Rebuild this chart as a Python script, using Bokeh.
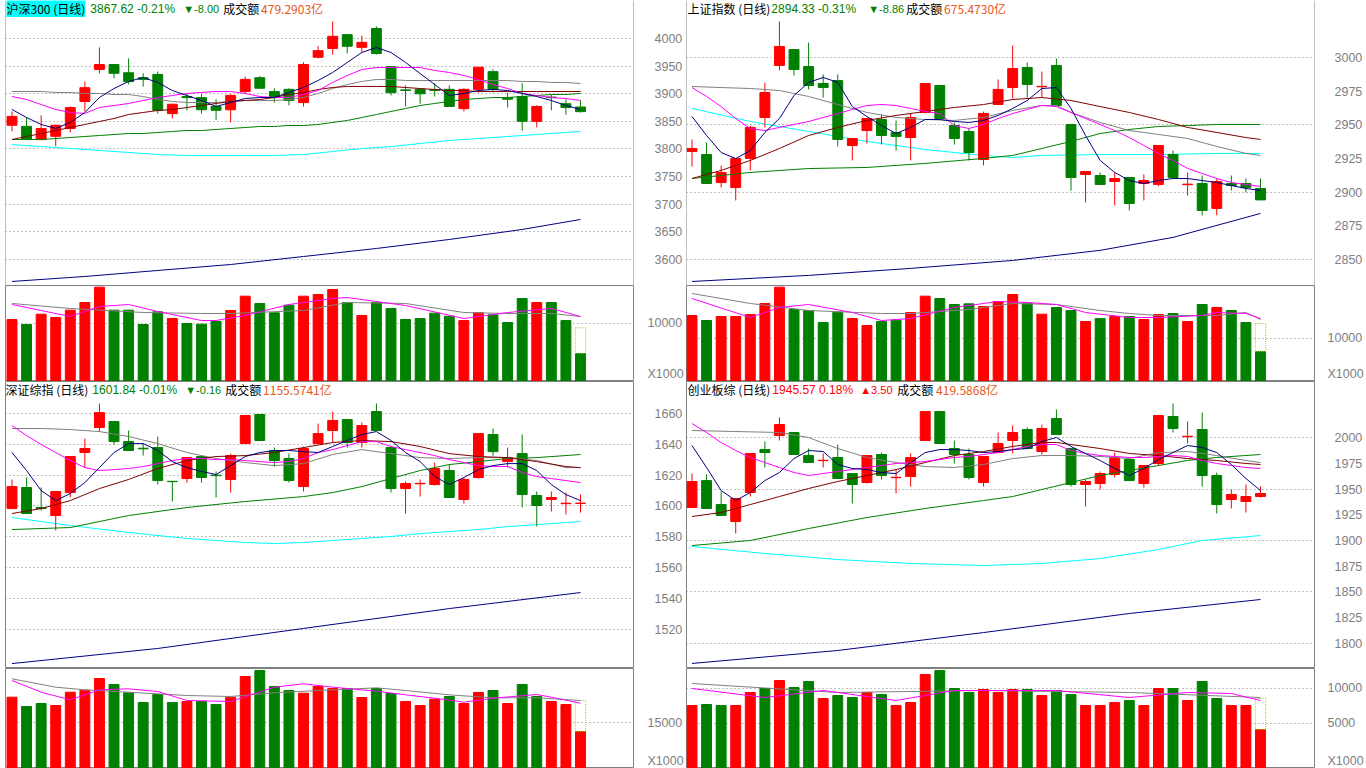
from bokeh.plotting import figure
from bokeh.layouts import row, column
from bokeh.models import Range1d, FixedTicker, Label, ColumnDataSource, Span
from bokeh.embed import file_html
from bokeh.resources import INLINE

# ---------------- DATA ----------------
IDX = list(range(40))

# 沪深300
TL_open = [3843,3841,3817,3823,3837,3886,3944,3953,3938,3929,3935,3864,3895,3893,3877,3871,3904,3929,3904,3908,3884,3966,3982,4007,3984,4018,3949,3907,3908,3907,3908,3873,3908,3940,3893,3895,3850,3894,3882,3876]
TL_high = [3868,3857,3861,3844,3877,3922,3984,3953,3964,3937,3940,3882,3900,3900,3890,3900,3931,3932,3910,3910,3957,3986,4031,4007,4005,4022,3949,3915,3908,3919,3915,3910,3948,3944,3902,3919,3879,3899,3890,3888]
TL_low = [3832,3817,3816,3805,3830,3868,3937,3928,3917,3913,3864,3855,3870,3864,3852,3848,3900,3910,3884,3879,3877,3964,3971,3973,3975,3971,3897,3877,3882,3895,3877,3868,3902,3902,3875,3833,3839,3870,3862,3866]
TL_close = [3859,3818,3837,3843,3875,3911,3953,3937,3922,3926,3870,3881,3893,3871,3870,3897,3926,3910,3893,3888,3953,3978,4004,3986,3993,3973,3902,3906,3900,3906,3877,3908,3948,3908,3890,3850,3877,3893,3875,3867.62]
TL_ma5 = [3871.5,3857.0,3844.4,3837.1,3848.0,3866.1,3893.2,3909.5,3922.2,3929.4,3920.4,3905.9,3896.8,3887.8,3876.9,3884.2,3891.4,3893.2,3893.2,3902.3,3911.3,3924.0,3938.5,3956.6,3974.7,3983.7,3974.7,3956.6,3936.6,3916.7,3896.8,3900.5,3905.9,3907.7,3905.9,3900.5,3895.0,3887.8,3878.7,3871.5]
TL_ma10 = [3895.0,3889.6,3880.5,3871.5,3866.1,3864.3,3875.1,3878.7,3882.4,3887.8,3893.2,3896.8,3900.5,3902.3,3904.1,3904.1,3900.5,3895.0,3893.2,3893.2,3898.6,3905.9,3920.4,3933.0,3943.9,3947.5,3947.5,3947.5,3947.5,3942.1,3938.5,3933.0,3925.8,3916.7,3909.5,3900.5,3896.8,3893.2,3891.4,3887.8]
TL_ma20 = [3904.1,3904.1,3904.1,3902.3,3902.3,3900.5,3900.5,3898.6,3898.6,3895.0,3889.6,3886.0,3884.2,3884.2,3884.2,3886.0,3887.8,3887.8,3887.8,3889.6,3893.2,3900.5,3909.5,3916.7,3922.2,3925.8,3925.8,3924.0,3924.0,3924.0,3924.0,3924.0,3924.0,3924.0,3924.0,3922.2,3922.2,3920.4,3920.4,3918.5]
TL_ma30 = [3817.2,3822.6,3828.0,3833.5,3838.9,3844.4,3849.8,3855.2,3862.4,3866.1,3869.7,3871.5,3875.1,3878.7,3882.4,3886.0,3887.8,3889.6,3893.2,3898.6,3902.3,3907.7,3911.3,3913.2,3913.2,3913.2,3913.2,3911.3,3909.5,3907.7,3905.9,3905.9,3904.1,3904.1,3904.1,3904.1,3904.1,3904.1,3904.1,3904.1]
TL_ma60 = [3817.2,3817.2,3817.2,3819.0,3820.8,3822.6,3824.4,3826.2,3828.0,3828.0,3829.9,3831.7,3833.5,3833.5,3835.3,3837.1,3838.9,3840.7,3840.7,3842.5,3842.5,3844.4,3848.0,3851.6,3857.0,3862.4,3867.9,3873.3,3878.7,3882.4,3886.0,3889.6,3891.4,3893.2,3893.2,3895.0,3896.8,3898.6,3898.6,3900.5]
TL_ma120_x = [0,2,4,6,8,10,12,14,16,18,20,22,24,26,28,30,32,34,36,38,39]
TL_ma120 = [3808.1,3804.5,3800.9,3797.3,3793.7,3790.0,3788.2,3788.2,3788.2,3788.2,3790.0,3795.5,3800.9,3804.5,3809.9,3815.4,3819.0,3822.6,3826.2,3829.9,3831.7]
TL_ma250_x = [0,5,10,15,20,25,30,35,39]
TL_ma250 = [3560.2,3569.2,3580.1,3590.9,3605.4,3619.9,3636.2,3654.3,3672.4]
TL_vol = [10700,9820,11630,11050,12340,13680,16370,12340,12340,9820,12050,10870,10000,9880,10350,12280,14790,13500,11870,13210,14790,15080,15960,13680,11400,13680,12630,10700,10870,11810,11280,10520,11870,11520,10170,14380,13680,13680,10520,4740]
TL_vol_proj = 9240
TL_vma10_x = [0,4,9,13,15,20,23,27,31,34,37,39]
TL_vma10 = [13506,12629,11927,11752,11752,12278,13681,13506,11927,11752,11752,11226]
TL_vma5_x = [0,2,4,6,8,10,13,14,16,19,22,23,27,31,34,37,39]
TL_vma5 = [13330,12278,11226,12980,13330,12103,10524,10524,11401,13330,14383,14558,13155,10875,11927,12629,11226]

# 上证指数
TR_open = [2930.3,2928.0,2907.2,2903.5,2925.1,2955.5,2994.1,3005.9,2993.3,2980.7,2982.9,2934.7,2945.8,2954.0,2944.3,2940.6,2959.2,2979.2,2949.5,2945.1,2924.3,2965.1,2977.7,2992.6,2978.3,2994.1,2950.3,2913.2,2912.4,2908.0,2911.0,2906.5,2905.8,2928.0,2905.6,2906.5,2888.0,2906.5,2906.5,2902.8]
TR_high = [2939.2,2936.9,2919.9,2925.1,2949.5,2981.4,3026.7,3005.9,3011.1,2987.4,2987.4,2939.9,2954.7,2957.7,2953.3,2958.4,2980.7,2979.2,2951.8,2947.3,2959.9,2983.7,3008.9,2996.3,2989.6,2999.3,2950.3,2915.4,2914.7,2914.7,2911.0,2913.2,2934.7,2931.0,2914.7,2912.4,2910.2,2912.4,2910.2,2910.2]
TR_low = [2919.1,2906.5,2903.5,2893.9,2916.2,2948.1,2990.4,2986.6,2976.3,2970.3,2934.0,2923.6,2936.2,2935.4,2931.0,2923.6,2958.4,2954.7,2935.4,2923.6,2919.9,2965.1,2969.6,2970.3,2970.3,2964.4,2901.3,2892.4,2905.8,2890.2,2886.5,2893.9,2904.3,2911.0,2897.6,2882.8,2882.8,2901.3,2899.8,2894.3]
TR_close = [2932.5,2906.5,2914.7,2925.1,2948.1,2974.0,3008.2,2991.1,2979.2,2977.7,2939.2,2939.9,2954.7,2942.1,2941.4,2955.5,2980.7,2954.7,2939.9,2929.5,2958.4,2976.3,2991.8,2980.0,2978.6,2964.4,2911.0,2915.4,2905.8,2910.2,2891.7,2908.7,2934.7,2911.0,2906.0,2886.5,2908.0,2905.0,2903.5,2894.33]
TR_ma5 = [2956.2,2942.1,2929.5,2925.0,2931.0,2944.4,2954.7,2971.8,2981.5,2985.2,2981.5,2963.6,2956.2,2949.5,2943.6,2948.1,2954.0,2954.0,2952.5,2951.8,2953.3,2957.0,2962.2,2968.1,2977.0,2977.7,2962.2,2942.1,2923.6,2914.7,2908.7,2906.5,2908.7,2910.2,2910.2,2908.7,2907.2,2905.0,2902.8,2901.3]
TR_ma10 = [2977.7,2971.1,2963.6,2954.7,2947.3,2945.8,2948.1,2950.3,2952.5,2955.5,2958.4,2961.4,2964.4,2965.1,2964.4,2962.2,2959.9,2958.4,2949.5,2947.3,2950.3,2954.7,2958.4,2961.4,2964.4,2963.6,2959.2,2954.7,2950.3,2945.8,2940.6,2934.7,2928.8,2923.6,2917.7,2913.9,2910.2,2907.2,2905.8,2904.3]
TR_ma20_x = [0,2,4,6,8,10,12,14,16,18,20,22,24,25,26,28,30,32,34,36,38,39]
TR_ma20 = [2978.5,2977.7,2977.0,2975.5,2971.1,2965.1,2959.2,2955.5,2954.0,2953.3,2955.5,2960.7,2964.4,2964.4,2959.2,2951.8,2945.8,2942.9,2939.9,2934.0,2928.8,2927.3]
TR_ma30_x = [0,2,4,6,8,10,12,14,16,18,20,22,24,26,28,30,32,34,36,38,39]
TR_ma30 = [2910.2,2916.2,2923.6,2932.5,2942.1,2948.1,2953.3,2957.0,2959.9,2962.9,2965.1,2968.8,2970.3,2968.1,2963.6,2959.2,2954.0,2948.1,2944.4,2940.6,2939.2]
TR_ma60_x = [0,4,8,12,16,20,22,24,26,28,30,32,34,36,39]
TR_ma60 = [2910.2,2914.7,2917.6,2918.4,2921.4,2925.1,2927.3,2932.5,2937.7,2943.6,2946.6,2948.8,2949.5,2950.3,2950.3]
TR_ma120_x = [0,4,8,12,16,20,22,24,28,32,36,39]
TR_ma120 = [2962.2,2952.5,2945.1,2937.7,2931.7,2927.3,2925.8,2927.3,2928.0,2928.0,2928.8,2928.8]
TR_ma250_x = [0,8,15,22,28,33,39]
TR_ma250 = [2833.8,2838.3,2843.5,2849.4,2856.9,2866.5,2884.3]
TR_vol = [15366,14184,15130,15130,15602,18203,22060,16784,16548,13711,16154,14657,13002,13948,14263,16075,19937,19385,17966,18124,17494,18676,20330,18282,15681,17257,16548,13948,14657,15130,15130,14420,15602,15838,13948,17966,17257,16548,13711,6856]
TR_vol_proj = 13475
TR_vma10_x = [0,4,8,13,15,19,22,25,28,30,32,36,38,39]
TR_vma10 = [20567,18203,16548,15839,15839,16784,18203,17966,16548,15839,15366,15366,16075,14420]
TR_vma5_x = [0,4,6,8,11,13,15,18,21,23,25,27,30,32,35,36,38,39]
TR_vma5 = [19385,14893,17257,17966,16075,14184,14657,17257,18676,18439,17966,16075,14893,14893,15366,16075,15839,14657]

# 深证综指
BL_open = [1598.3,1612.0,1599.0,1593.8,1608.7,1634.7,1650.9,1654.8,1641.8,1637.5,1637.9,1616.0,1617.8,1632.1,1620.0,1617.2,1640.5,1659.4,1636.0,1630.8,1612.6,1640.5,1649.0,1656.1,1641.2,1661.3,1637.9,1611.3,1614.4,1613.9,1623.0,1604.2,1618.5,1646.4,1628.8,1634.0,1606.8,1604.2,1601.5,1601.6]
BL_high = [1617.2,1618.5,1612.0,1609.4,1632.1,1643.8,1666.5,1654.8,1649.0,1640.5,1645.1,1616.0,1631.4,1632.1,1622.4,1634.0,1658.7,1659.4,1637.9,1634.0,1638.6,1653.5,1661.3,1656.1,1654.2,1666.5,1637.9,1615.9,1617.2,1628.2,1626.9,1618.5,1647.0,1650.3,1637.9,1646.4,1609.4,1609.4,1608.7,1607.4]
BL_low = [1598.3,1595.1,1597.0,1584.1,1605.5,1625.0,1648.3,1639.9,1636.0,1632.7,1613.9,1602.9,1615.2,1615.2,1605.5,1608.7,1640.5,1642.5,1625.6,1615.2,1609.4,1640.5,1641.2,1637.9,1637.9,1649.0,1608.7,1595.1,1606.1,1613.3,1605.5,1601.6,1617.8,1632.7,1625.0,1599.0,1586.7,1596.4,1594.5,1595.7]
BL_close = [1612.6,1595.1,1598.3,1609.4,1632.1,1637.3,1660.6,1641.8,1636.0,1637.1,1616.5,1615.8,1631.4,1618.5,1619.7,1632.7,1658.7,1642.5,1629.5,1616.5,1637.3,1647.0,1655.5,1641.2,1652.2,1649.0,1611.3,1614.6,1614.7,1624.3,1605.5,1617.2,1647.0,1635.3,1631.4,1607.4,1600.3,1605.5,1601.8,1601.84]
BL_ma5 = [1634.7,1623.0,1610.0,1603.5,1608.1,1615.2,1624.9,1634.7,1640.5,1640.5,1636.0,1628.8,1624.9,1622.4,1620.4,1626.2,1632.1,1634.7,1636.0,1636.0,1635.3,1634.7,1638.6,1642.5,1646.4,1648.3,1642.5,1634.7,1628.8,1619.1,1613.9,1618.5,1623.6,1626.2,1627.5,1627.5,1623.0,1613.9,1607.4,1603.5]
BL_ma10 = [1652.2,1645.7,1639.9,1634.7,1629.5,1624.9,1623.0,1623.6,1624.3,1625.6,1627.5,1629.5,1630.8,1630.8,1630.1,1630.1,1629.5,1628.8,1628.2,1628.8,1630.8,1634.7,1636.6,1639.2,1641.8,1641.8,1638.6,1636.6,1634.7,1632.7,1630.1,1628.2,1626.2,1625.6,1625.6,1621.7,1619.1,1617.8,1616.5,1615.2]
BL_ma20_x = [0,2,4,6,8,10,12,14,16,18,20,22,24,26,28,30,32,34,36,38,39]
BL_ma20 = [1650.3,1650.3,1649.6,1648.3,1645.1,1640.5,1634.7,1630.8,1628.2,1626.2,1627.5,1633.4,1636.6,1634.0,1631.4,1630.8,1631.4,1631.4,1629.5,1624.9,1624.9]
BL_ma30_x = [0,2,4,6,8,10,12,14,16,18,20,22,24,26,28,30,32,34,36,38,39]
BL_ma30 = [1595.1,1598.3,1603.5,1611.3,1617.2,1624.3,1629.5,1632.1,1632.7,1634.7,1637.9,1641.2,1642.5,1641.8,1638.6,1634.0,1632.1,1631.4,1628.8,1625.6,1624.9]
BL_ma60_x = [0,4,8,12,16,20,22,24,26,28,30,32,34,36,39]
BL_ma60 = [1584.7,1586.0,1593.8,1599.0,1602.9,1606.1,1608.7,1612.6,1617.8,1623.0,1626.9,1628.8,1630.8,1631.4,1633.4]
BL_ma120_x = [0,4,8,12,16,18,20,22,24,26,28,30,32,34,36,39]
BL_ma120 = [1592.5,1587.3,1582.8,1578.9,1576.3,1575.6,1576.3,1577.6,1578.9,1580.2,1582.1,1583.4,1584.7,1586.6,1587.9,1589.9]
BL_ma250_x = [0,10,20,30,39]
BL_ma250 = [1497.7,1507.5,1520.5,1533.4,1543.8]
BL_vol = [24432,21005,22110,21373,26274,27011,31323,29112,26053,22479,25427,22479,22847,22847,21742,24432,32060,34271,28375,26901,25906,28375,27638,27638,24321,27638,25795,22847,21373,23695,24690,22110,26164,26901,22110,29112,24690,22847,21742,11792]
BL_vol_proj = 23216
BL_vma10_x = [0,3,5,8,12,15,18,21,25,27,30,33,36,39]
BL_vma10 = [31213,28117,27158,26274,25058,24690,26053,26901,27884,26901,25304,24211,24211,23216]
BL_vma5_x = [0,2,4,6,8,10,12,15,18,20,22,25,27,29,31,33,36,37,39]
BL_vma5 = [30586,26274,23474,27158,27527,26532,23216,22847,28117,29370,28117,26643,25304,24063,22589,24063,25427,24432,22221]

# 创业板综
BR_open = [1932.0,1958.2,1934.9,1918.4,1946.6,1988.3,2001.9,2004.9,1982.5,1977.5,1980.6,1965.0,1956.3,1983.5,1961.0,1962.1,1997.1,2025.2,1989.3,1983.5,1956.3,1985.4,1997.1,2007.8,1986.4,2018.4,1989.3,1954.4,1955.3,1964.1,1978.6,1955.3,1974.8,2020.4,2000.8,2007.8,1963.1,1939.8,1937.9,1942.7]
BR_high = [1965.0,1964.1,1947.6,1940.8,1984.5,1996.1,2019.4,2004.9,1989.3,1984.5,1993.2,1965.0,1982.5,1985.4,1968.9,1984.5,2025.2,2025.2,1997.1,1989.3,1981.6,2004.9,2011.7,2009.7,2012.6,2027.2,1989.3,1959.2,1967.0,1985.4,1978.6,1972.8,2021.4,2033.0,2015.5,2024.3,1966.0,1949.5,1954.4,1952.4]
BR_low = [1932.0,1931.1,1924.3,1906.8,1942.7,1970.9,1997.1,1983.5,1975.7,1970.9,1960.2,1935.9,1955.3,1959.2,1945.6,1952.4,1997.1,1994.2,1974.8,1959.2,1952.4,1985.4,1984.5,1989.3,1983.5,2002.9,1952.4,1933.0,1949.5,1961.2,1958.2,1951.4,1972.8,2004.9,1994.2,1952.4,1926.2,1931.1,1927.2,1941.7]
BR_close = [1957.3,1931.1,1924.3,1940.8,1984.5,1985.4,2012.6,1983.5,1975.7,1977.9,1960.2,1954.4,1982.5,1963.1,1961.4,1980.6,2025.2,1994.2,1983.5,1961.2,1981.6,1994.2,2004.9,1989.3,2008.7,2002.9,1954.4,1957.3,1965.0,1980.6,1958.2,1972.8,2021.4,2008.7,2001.2,1963.1,1934.9,1944.7,1942.7,1945.57]
BR_ma5 = [1992.2,1970.9,1948.5,1938.8,1946.6,1958.2,1966.0,1979.6,1987.4,1986.4,1973.8,1969.9,1968.9,1966.0,1965.0,1975.7,1985.4,1988.3,1988.3,1987.4,1985.4,1986.4,1988.3,1989.3,1996.1,2000.0,1991.3,1984.5,1977.7,1969.9,1963.1,1969.9,1978.6,1985.4,1992.2,1990.3,1985.4,1973.8,1960.2,1948.5]
BR_ma10 = [2013.6,2004.9,1995.1,1987.4,1980.6,1975.7,1970.9,1966.0,1963.1,1965.0,1967.0,1968.9,1970.9,1972.8,1974.8,1975.7,1976.7,1978.6,1980.6,1981.6,1983.5,1985.4,1988.3,1991.3,1993.2,1993.2,1987.4,1984.5,1982.5,1981.6,1980.6,1980.6,1981.6,1982.5,1981.6,1977.7,1974.8,1972.8,1970.9,1969.9]
BR_ma20_x = [0,3,6,8,10,12,14,16,18,20,22,24,26,28,30,32,34,36,38,39]
BR_ma20 = [2006.8,2005.8,2004.9,2000.0,1989.3,1980.6,1975.7,1971.8,1970.9,1973.8,1979.6,1982.5,1982.5,1981.6,1979.6,1985.4,1986.4,1982.5,1977.7,1975.7]
BR_ma30_x = [0,2,4,6,8,10,12,14,16,18,20,22,24,25,26,28,30,32,34,36,38,39]
BR_ma30 = [1923.3,1927.2,1934.9,1942.7,1950.5,1957.3,1963.1,1968.9,1975.7,1982.5,1986.4,1991.3,1995.2,1995.2,1993.2,1989.3,1984.5,1982.5,1979.6,1977.7,1974.8,1973.8]
BR_ma60_x = [0,4,8,12,16,20,22,24,26,28,30,32,34,36,39]
BR_ma60 = [1895.1,1900.0,1911.6,1922.3,1931.1,1938.8,1942.7,1949.5,1956.3,1963.1,1968.0,1972.8,1977.7,1980.6,1983.5]
BR_ma120_x = [0,5,10,15,20,24,28,32,35,39]
BR_ma120 = [1894.2,1887.4,1881.5,1877.7,1875.7,1877.7,1882.5,1891.2,1900.0,1904.8]
BR_ma250_x = [0,10,20,30,39]
BR_ma250 = [1780.6,1793.2,1810.6,1829.1,1842.7]
BR_vol = [7572,7714,7572,7572,9429,10000,11143,10143,11000,8572,9000,8714,9429,9143,7572,8000,12000,12571,10000,9429,9857,9429,9857,9857,9000,9714,9143,7572,7572,8000,8286,7572,10000,10000,8286,11000,8572,7572,7572,4143]
BR_vol_proj = 8572
BR_vma10_x = [0,10,20,30,39]
BR_vma10 = [10714,9429,9714,9429,8714]
BR_vma5_x = [0,5,9,14,18,25,30,34,37,39]
BR_vma5 = [10000,8714,9714,8286,9714,9714,8714,9429,9286,8286]

# ---------------- STYLE / GEOMETRY ----------------
PX = 14.6
RED = "#FF0000"; GREEN = "#008000"; NAVY = "#000080"; MAG = "#FF00FF"
GRAY = "#808080"; MAROON = "#800000"; CYAN = "#00FFFF"; ORANGE = "#E8561A"
AXIS_FONT = "Liberation Sans"
CJK = "Noto Sans CJK SC"


def mk_fig(width, height, left, right, frame_w, first_off, yr, ticks, grid, standoff, overrides=None):
    xs = -first_off / PX
    xe = xs + frame_w / PX
    p = figure(width=width, height=height, x_range=Range1d(xs, xe), y_range=Range1d(*yr),
               x_axis_location=None, y_axis_location="right", output_backend="svg",
               toolbar_location=None, min_border_left=left, min_border_right=right,
               min_border_top=0, min_border_bottom=0)
    p.outline_line_color = GRAY
    p.outline_line_width = 1
    ax = p.yaxis[0]
    ax.ticker = FixedTicker(ticks=ticks)
    if overrides:
        ax.major_label_overrides = overrides
    ax.axis_line_color = None
    ax.major_tick_line_color = None
    ax.minor_tick_line_color = None
    ax.major_tick_out = 0
    ax.major_tick_in = 0
    ax.major_label_standoff = standoff
    ax.major_label_text_color = GRAY
    ax.major_label_text_font = AXIS_FONT
    ax.major_label_text_font_size = "12.5px"
    p.xgrid.visible = False
    p.ygrid.ticker = FixedTicker(ticks=grid)
    p.ygrid.grid_line_color = GRAY
    p.ygrid.grid_line_dash = "1 3"
    p.ygrid.grid_line_width = 1
    p.background_fill_color = "white"
    p.border_fill_color = "white"
    return p


def px_to_data(xr, yr, frame_left, frame_w, frame_h, px, py):
    xs, xe = xr
    ys, ye = yr
    x = xs + (px - frame_left) * (xe - xs) / frame_w
    y = ye - py * (ye - ys) / frame_h
    return x, y


def candles(p, o, h, l, c):
    col = [RED if cc >= oo else GREEN for oo, cc in zip(o, c)]
    src = ColumnDataSource(dict(x=IDX, h=h, l=l, top=[max(a, b) for a, b in zip(o, c)],
                                bot=[min(a, b) for a, b in zip(o, c)], col=col))
    p.segment(x0="x", y0="h", x1="x", y1="l", line_color="col", line_width=1, source=src)
    p.vbar(x="x", width=0.68, top="top", bottom="bot", fill_color="col", line_color="col",
           line_width=1, source=src)


def volumes(p, base, o, c, v, proj, vma10x, vma10, vma5x, vma5):
    col = [RED if cc >= oo else GREEN for oo, cc in zip(o, c)]
    src = ColumnDataSource(dict(x=IDX, v=v, col=col))
    p.vbar(x="x", width=0.68, top="v", bottom=base, fill_color="col", line_color="col", source=src)
    p.quad(left=[IDX[-1] - 0.36], right=[IDX[-1] + 0.36], bottom=[v[-1]], top=[proj],
           fill_color=None, line_color="#C8C000", line_dash="1 1", line_width=1)
    p.line(vma10x, vma10, line_color=GRAY, line_width=1)
    p.line(vma5x, vma5, line_color=MAG, line_width=1)


def title(p, fl, fw, fh, segs):
    xr = (p.x_range.start, p.x_range.end)
    yr = (p.y_range.start, p.y_range.end)
    for px, text, color, font, size, bg in segs:
        x, y = px_to_data(xr, yr, fl, fw, fh, px, 8)
        lab = Label(x=x, y=y, text=text, text_color=color, text_font=font,
                    text_font_size=size, text_baseline="middle", text_align="left")
        if bg:
            lab.background_fill_color = bg
        p.add_layout(lab)


def panel(cfg):
    fl, fw, fr = cfg["fl"], cfg["fw"], cfg["fr"]
    width = fl + fw + fr
    off = 5.5 + cfg["off"]
    pp = mk_fig(width, cfg["ph"], fl, fr, fw, off, cfg["pyr"], cfg["pticks"], cfg["pgrid"], cfg["pstand"])
    if cfg["open_top"]:
        # no border along the very top of the window: draw only the side edges
        pp.outline_line_color = None
        for loc in (pp.x_range.start, pp.x_range.end):
            pp.add_layout(Span(location=loc, dimension="height", line_color=GRAY, line_width=1))
    o, h, l, c = cfg["ohlc"]
    for xs, ys, color in cfg["mas_back"]:
        pp.line(xs, ys, line_color=color, line_width=1)
    candles(pp, o, h, l, c)
    for xs, ys, color in cfg["mas"]:
        pp.line(xs, ys, line_color=color, line_width=1)
    title(pp, fl, fw, cfg["ph"], cfg["title"])

    # "X1000" unit marker placed as an extra axis label near the bottom of the volume pane
    _, unit_y = px_to_data((0, 1), cfg["vyr"], 0, 1, cfg["vh"], 0, cfg["vh"] - 8)
    unit_y = round(unit_y, 3)
    pv = mk_fig(width, cfg["vh"], fl, fr, fw, off, cfg["vyr"], cfg["vticks"] + [unit_y],
                cfg["vticks"], cfg["vstand"], overrides={unit_y: "X1000"})
    volumes(pv, cfg["vyr"][0], o, c, *cfg["vol"])
    return pp, pv


LEFT = dict(fl=5, fw=629, fr=52, off=1)
RIGHT = dict(fl=0, fw=629, fr=51, off=0)
T = "12px"
S = "11px"

tl = dict(LEFT, ph=285, vh=96, open_top=True,
          pyr=(3552.9, 4068.8), pticks=[3600, 3650, 3700, 3750, 3800, 3850, 3900, 3950, 4000],
          pgrid=[3600, 3650, 3700, 3750, 3800, 3850, 3900, 3950, 4000], pstand=21,
          ohlc=(TL_open, TL_high, TL_low, TL_close),
          mas_back=[(TL_ma250_x, TL_ma250, NAVY), (TL_ma120_x, TL_ma120, CYAN)],
          mas=[(IDX, TL_ma60, GREEN), (IDX, TL_ma20, GRAY), (IDX, TL_ma30, MAROON), (IDX, TL_ma10, MAG), (IDX, TL_ma5, NAVY)],
          title=[(6, "沪深300 (日线)", "black", CJK, T, CYAN),
                 (90, "3867.62 -0.21%", GREEN, AXIS_FONT, T, None),
                 (183, "▼-8.00", GREEN, AXIS_FONT, S, None),
                 (223, "成交额", "black", CJK, T, None),
                 (261, "479.2903亿", ORANGE, CJK, T, None)],
          vyr=(-175, 16663), vticks=[10000], vstand=14,
          vol=(TL_vol, TL_vol_proj, TL_vma10_x, TL_vma10, TL_vma5_x, TL_vma5))

tr = dict(RIGHT, ph=285, vh=96, open_top=True,
          pyr=(2830.8, 3042.3), pticks=[2850, 2875, 2900, 2925, 2950, 2975, 3000],
          pgrid=[2850, 2900, 2950, 3000], pstand=20,
          ohlc=(TR_open, TR_high, TR_low, TR_close),
          mas_back=[(TR_ma250_x, TR_ma250, NAVY), (TR_ma120_x, TR_ma120, CYAN)],
          mas=[(TR_ma60_x, TR_ma60, GREEN), (TR_ma20_x, TR_ma20, GRAY), (TR_ma30_x, TR_ma30, MAROON), (IDX, TR_ma10, MAG), (IDX, TR_ma5, NAVY)],
          title=[(1, "上证指数 (日线)", "black", CJK, T, None),
                 (85, "2894.33 -0.31%", GREEN, AXIS_FONT, T, None),
                 (182, "▼-8.86", GREEN, AXIS_FONT, S, None),
                 (220, "成交额", "black", CJK, T, None),
                 (258, "675.4730亿", ORANGE, CJK, T, None)],
          vyr=(-236, 22458), vticks=[10000], vstand=13,
          vol=(TR_vol, TR_vol_proj, TR_vma10_x, TR_vma10, TR_vma5_x, TR_vma5))

bl = dict(LEFT, ph=287, vh=100, open_top=False,
          pyr=(1494.5, 1680.8), pticks=[1520, 1540, 1560, 1580, 1600, 1620, 1640, 1660],
          pgrid=[1520, 1540, 1560, 1580, 1600, 1620, 1640, 1660], pstand=21,
          ohlc=(BL_open, BL_high, BL_low, BL_close),
          mas_back=[(BL_ma250_x, BL_ma250, NAVY), (BL_ma120_x, BL_ma120, CYAN)],
          mas=[(BL_ma60_x, BL_ma60, GREEN), (BL_ma20_x, BL_ma20, GRAY), (BL_ma30_x, BL_ma30, MAROON), (IDX, BL_ma10, MAG), (IDX, BL_ma5, NAVY)],
          title=[(5, "深证综指 (日线)", "black", CJK, T, None),
                 (92, "1601.84 -0.01%", GREEN, AXIS_FONT, T, None),
                 (185, "▼-0.16", GREEN, AXIS_FONT, S, None),
                 (225, "成交额", "black", CJK, T, None),
                 (263, "1155.5741亿", ORANGE, CJK, T, None)],
          vyr=(-1843, 35008), vticks=[15000], vstand=14,
          vol=(BL_vol, BL_vol_proj, BL_vma10_x, BL_vma10, BL_vma5_x, BL_vma5))

br = dict(RIGHT, ph=287, vh=100, open_top=False,
          pyr=(1775.7, 2054.4), pticks=[1800, 1825, 1850, 1875, 1900, 1925, 1950, 1975, 2000],
          pgrid=[1800, 1850, 1900, 1950, 2000], pstand=20,
          ohlc=(BR_open, BR_high, BR_low, BR_close),
          mas_back=[(BR_ma250_x, BR_ma250, NAVY), (BR_ma120_x, BR_ma120, CYAN)],
          mas=[(BR_ma60_x, BR_ma60, GREEN), (BR_ma20_x, BR_ma20, GRAY), (BR_ma30_x, BR_ma30, MAROON), (IDX, BR_ma10, MAG), (IDX, BR_ma5, NAVY)],
          title=[(1, "创业板综 (日线)", "black", CJK, T, None),
                 (86, "1945.57 0.18%", RED, AXIS_FONT, T, None),
                 (174, "▲3.50", RED, AXIS_FONT, S, None),
                 (211, "成交额", "black", CJK, T, None),
                 (250, "419.5868亿", ORANGE, CJK, T, None)],
          vyr=(-1429, 12857), vticks=[5000, 10000], vstand=13,
          vol=(BR_vol, BR_vol_proj, BR_vma10_x, BR_vma10, BR_vma5_x, BR_vma5))

tlp, tlv = panel(tl)
trp, trv = panel(tr)
blp, blv = panel(bl)
brp, brv = panel(br)

layout = row(column(tlp, tlv, blp, blv, spacing=0), column(trp, trv, brp, brv, spacing=0), spacing=0)
open("out.html", "w").write(file_html(layout, INLINE))
